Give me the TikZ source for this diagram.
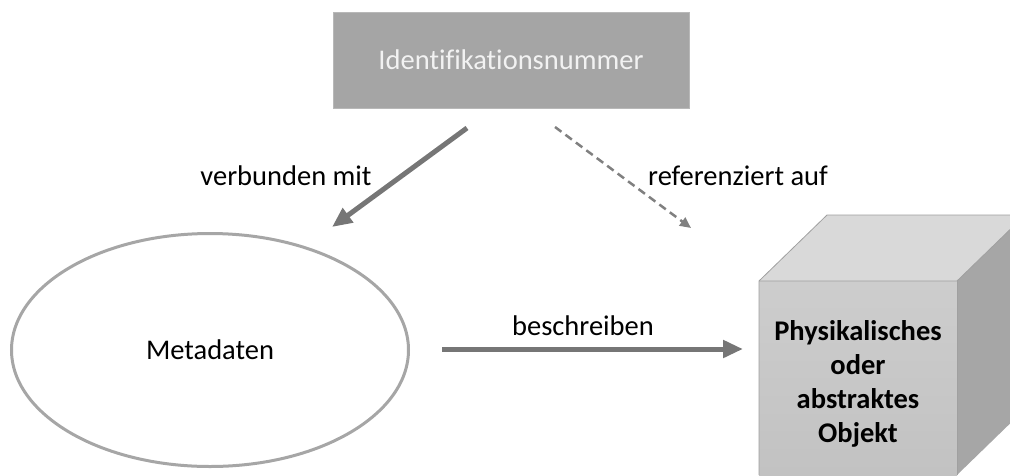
\documentclass[tikz,border=0pt]{standalone}
\usepackage{fontspec}
\setmainfont{Carlito}[Ligatures={NoCommon,NoContextual}]
\usetikzlibrary{arrows.meta,shapes.geometric}
\definecolor{boxgray}{HTML}{A5A5A5}
\definecolor{boxedge}{HTML}{B8B8B8}
\definecolor{arrowgray}{HTML}{767676}
\definecolor{dashgray}{HTML}{808080}
\definecolor{ringgray}{HTML}{A6A6A6}
\definecolor{cubetop}{HTML}{D9D9D9}
\definecolor{cubefronttop}{HTML}{CDCDCD}
\definecolor{cubefrontbot}{HTML}{C2C2C2}
\definecolor{cubeside}{HTML}{A6A6A6}
\definecolor{cubeedge}{HTML}{A0A0A0}
\definecolor{boxtext}{HTML}{F2F2F2}
\begin{document}
\begin{tikzpicture}[x=1pt,y=-1pt,
  every node/.style={font=\fontsize{28.5}{34}\selectfont, inner sep=0pt},
  idbox/.style={draw=boxedge, line width=1pt, fill=boxgray, text=boxtext,
    minimum width=356pt, minimum height=96pt},
  metaring/.style={ellipse, draw=ringgray, line width=3pt, fill=white,
    minimum width=397pt, minimum height=233pt},
  label/.style={text=black},
  solidarrow/.style={draw=arrowgray, line width=5pt,
    -{Triangle[length=20pt,width=17pt]}},
  dasharrow/.style={draw=dashgray, line width=2.5pt, dash pattern=on 8pt off 5pt,
    -{Triangle[length=11pt,width=10pt]}},
  cubeline/.style={draw=cubeedge, line width=0.8pt}
]
\useasboundingbox (0,0) rectangle (1010,475);
\begin{scope}
\clip (0,0) rectangle (1010,475);

% cube: top, side and front faces
\fill[cubetop] (759,281) -- (827,215) -- (1025,215) -- (957,281) -- cycle;
\fill[cubeside] (957,281) -- (1025,215) -- (1025,409) -- (957,475) -- cycle;
\shade[top color=cubefronttop, bottom color=cubefrontbot] (759,281) rectangle (957,475);
\draw[cubeline] (759,475) -- (759,281) -- (827,215) -- (1025,215);
\draw[cubeline] (759,281) -- (957,281) -- (1025,215);
\draw[cubeline] (957,281) -- (957,475);
\end{scope}

\node[align=center, font=\fontsize{28.5}{34}\selectfont\bfseries] (obj) at (858,384)
  {Physikalisches\\oder\\abstraktes\\Objekt};

% identification number box
\node[idbox] (id) at (511,60) {Identifikationsnummer};

% metadata ellipse
\node[metaring] (meta) at (210,350) {Metadaten};

% arrow end points
\coordinate (a1s) at (467,128);
\coordinate (a1e) at (332,227);
\coordinate (a2s) at (555,127);
\coordinate (a2e) at (691,228);
\coordinate (a3s) at (442,349);
\coordinate (a3e) at (743,349);

\draw[solidarrow] (a1s) -- (a1e);
\draw[dasharrow] (a2s) -- (a2e);
\draw[solidarrow] (a3s) -- (a3e);

% connector labels
\node[label] (lverb) at (286,176) {verbunden mit};
\node[label] (lref) at (738,176) {referenziert auf};
\node[label] (lbes) at (583,326) {beschreiben};
\end{tikzpicture}
\end{document}
